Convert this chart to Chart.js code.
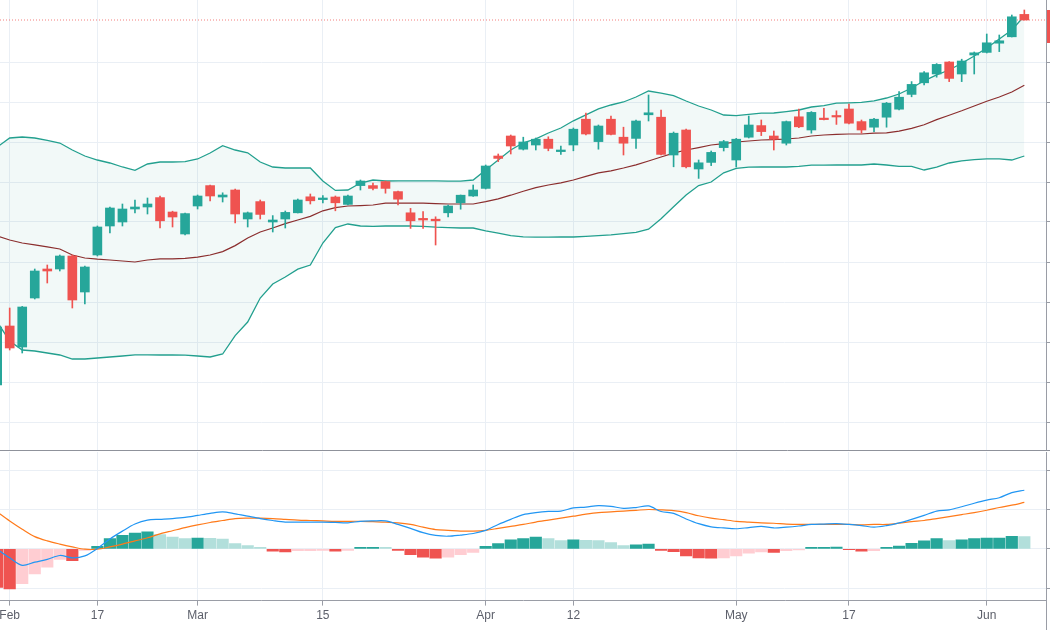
<!DOCTYPE html>
<html lang="en">
<head>
<meta charset="UTF-8">
<title>Candles with Bollinger Bands and MACD</title>
<script src="https://cdn.jsdelivr.net/npm/chart.js"></script>
<style>
  html, body { margin: 0; padding: 0; background: #ffffff; }
  #wrap { position: relative; width: 1050px; height: 630px; overflow: hidden; }
  #priceChart { position: absolute; left: 0; top: 0; }
  #macdChart { position: absolute; left: 0; top: 450px; }
</style>
</head>
<body>
<div id="wrap">
  <canvas id="priceChart" width="1050" height="450"></canvas>
  <canvas id="macdChart" width="1050" height="180"></canvas>
</div>

<script>
// x axis: bar index of each labelled session and its text
const tickIdx  = [1, 8, 16, 26, 39, 46, 59, 68, 79];
const tickText = ['Feb', '17', 'Mar', '15', 'Apr', '12', 'May', '17', 'Jun'];

// daily candles (index 0 is the half-hidden bar at the left edge)
const openP = [19.25, 34, 28.75, 41, 48.25, 48.25, 51.5, 42.5, 51.75, 59,
  60, 63.25, 63.75, 66.1, 62.5, 57, 64, 69.1, 66.25, 68,
  60.75, 65.1, 60, 60.75, 62.3, 66.3, 65.6, 66.25, 64.4, 69.1,
  69.1, 70.1, 67.6, 62.3, 60.9, 60.7, 62.3, 64.8, 66.5, 68.4,
  76.5, 81.5, 78.2, 79.25, 80.7, 77.6, 79.25, 85.7, 80.1, 85.7,
  81.2, 80.9, 86.8, 86.2, 76.75, 83, 73.25, 74.9, 78.6, 75.5,
  81.2, 84.1, 81.5, 79.7, 86.3, 83, 85.9, 86.6, 88.25, 85.1,
  83.7, 86.2, 88.2, 91.9, 94.8, 97, 100, 97, 101.75, 102.4,
  104.7, 106.3, 111.9];
const highP = [34.25, 38.5, 38.9, 48.25, 49.25, 51.75, 51.75, 49, 59, 63.75,
  64.5, 65.5, 66, 66.5, 62.7, 62.25, 66.75, 69.25, 67.3, 68.25,
  62.5, 65.5, 61.6, 62.75, 65.75, 67, 66.6, 66.5, 66.75, 70.5,
  69.75, 70.25, 67.75, 63.4, 62.6, 61.3, 64.25, 66.75, 69.25, 74.25,
  77, 81.75, 81.2, 81, 81.3, 79, 83.5, 87.2, 84.25, 86.5,
  83.7, 85.5, 91.75, 88, 82.5, 83.25, 75.5, 77.75, 80.4, 80.9,
  86.5, 85.5, 82.75, 85.25, 88.25, 87.6, 88.4, 87.8, 89.5, 85.5,
  85.9, 89.9, 92.6, 95.1, 97.6, 99.6, 100.1, 100.7, 102.5, 107,
  106.75, 111.75, 113];
const lowP = [18.75, 28, 27.25, 40.75, 44.75, 47.75, 38.5, 39.5, 51.5, 57.25,
  59, 62.25, 62, 58.5, 58.75, 56.75, 63.25, 65.3, 65, 59.75,
  58.75, 60.75, 57.5, 58.5, 62.25, 64.5, 64.75, 62.8, 64.25, 68,
  68, 67.2, 64.25, 58.4, 58.4, 54.25, 61.3, 63.2, 66.4, 68.25,
  75.1, 77, 78, 78, 77.8, 76.9, 77.8, 81.75, 78.2, 81.75,
  76.75, 78.4, 85.25, 76.75, 73.8, 73.5, 70.9, 74.1, 77.75, 73.75,
  81, 81.6, 78, 79.25, 83.6, 82.2, 85.5, 84.4, 84.5, 82.2,
  82.6, 83.7, 88, 91.3, 94.25, 96.2, 95.1, 95.1, 97, 102.25,
  102.6, 106.25, 110.5];
const closeP = [33.75, 28.5, 38.75, 47.75, 47.75, 51.5, 40.5, 48.75, 58.75, 63.5,
  63.25, 63.75, 64.5, 60.3, 61.25, 62.1, 66.5, 66.5, 66.75, 62,
  62.3, 61.9, 60.5, 62.4, 65.5, 65.3, 66, 64.8, 66.5, 70.25,
  68.4, 68.4, 65.7, 60.3, 60.5, 60.3, 64, 66.7, 68, 74,
  75.9, 79, 80, 80.7, 78.4, 78, 83.2, 82, 84, 81.9,
  79.7, 85.25, 87.3, 76.9, 82.2, 73.8, 74.8, 77.4, 80.1, 80.7,
  84.25, 82.6, 80.7, 85.1, 83.8, 87.4, 85.6, 86.25, 84.7, 83,
  85.7, 89.7, 91.2, 94.4, 97.3, 99.4, 95.9, 100.25, 102.3, 104.8,
  105.3, 111.3, 110.5];

// Bollinger bands
const bbUpper = [78.75, 81, 81.25, 81, 80.4, 79.75, 78, 76.5, 75.5, 74.75,
  73.75, 72.9, 74.5, 75, 75, 75.1, 75.75, 77.25, 79.1, 78,
  77.3, 75, 73.75, 73.5, 73.5, 73.5, 70.25, 67.9, 68, 69.75,
  70.5, 70.25, 70.3, 70.3, 70.3, 70.3, 70.2, 70.2, 70.5, 73,
  75.5, 78, 79.8, 80.8, 82.25, 83.5, 85.3, 86.8, 88.3, 89.25,
  90, 91.25, 92.75, 92.2, 91.6, 90.25, 89, 88, 86.75, 86.6,
  86.9, 87.2, 87.25, 87.6, 88, 88.75, 89.1, 89.7, 89.8, 89.9,
  90.3, 91, 92, 93.5, 95.3, 96.8, 98, 99.7, 101.5, 103.5,
  105.75, 108, 111.5];
const bbBasis = [56.5, 55.5, 54.75, 54.3, 53.8, 53.25, 51.75, 51, 50.7, 50.5,
  50.25, 50, 50.5, 50.8, 50.8, 50.9, 51.2, 51.75, 52.6, 54.1,
  56, 57.5, 58.5, 59.6, 60.5, 61.4, 62.8, 63.6, 64, 64.1,
  64.25, 64.7, 64.7, 64.7, 64.7, 64.6, 64.5, 64.5, 64.5, 65.1,
  65.8, 66.7, 67.7, 68.6, 69.25, 69.8, 70.5, 71.4, 72.3, 72.8,
  73.5, 74.3, 75.25, 76.25, 77.2, 78, 78.6, 79.25, 79.6, 80,
  80.25, 80.5, 80.6, 80.75, 81, 81.5, 81.75, 81.9, 82, 82,
  82.2, 82.3, 82.7, 83.4, 84.3, 85.6, 86.7, 87.8, 89, 90.2,
  91.25, 92.5, 94.2];
const bbLower = [35, 30.25, 28, 27.75, 27.25, 26.75, 25.75, 25.75, 26, 26.25,
  26.5, 26.8, 26.8, 26.75, 26.75, 26.7, 26.5, 26.25, 27, 31.6,
  35, 41, 44.5, 46.25, 48.2, 49.25, 54.75, 58.6, 59.5, 59,
  58.9, 59, 59, 59, 58.9, 58.7, 58.6, 58.5, 58.5, 57.8,
  57.2, 56.6, 56.3, 56.2, 56.2, 56.25, 56.25, 56.4, 56.6, 56.8,
  57.1, 57.4, 58.2, 60.8, 63.8, 66.75, 69.1, 70, 72.3, 73.4,
  73.7, 73.75, 73.75, 73.75, 73.9, 74.2, 74.2, 74.25, 74.25, 74.25,
  74.5, 74.25, 73.9, 73.9, 73, 73.7, 74.75, 75.3, 75.6, 75.8,
  75.8, 75.5, 76.5];

// MACD pane
const macdLine = [-0.01, -0.23, -0.42, -0.34, -0.27, -0.17, -0.23, -0.18, 0.01, 0.25,
  0.45, 0.63, 0.73, 0.75, 0.77, 0.80, 0.85, 0.90, 0.94, 0.89,
  0.83, 0.77, 0.72, 0.68, 0.68, 0.68, 0.68, 0.67, 0.66, 0.70,
  0.71, 0.71, 0.62, 0.52, 0.41, 0.34, 0.32, 0.35, 0.39, 0.47,
  0.62, 0.75, 0.87, 0.92, 0.95, 0.96, 1.04, 1.06, 1.10, 1.08,
  1.03, 1.05, 1.09, 0.95, 0.90, 0.76, 0.64, 0.56, 0.53, 0.51,
  0.54, 0.57, 0.53, 0.55, 0.58, 0.62, 0.63, 0.64, 0.62, 0.59,
  0.55, 0.59, 0.66, 0.75, 0.85, 0.96, 0.99, 1.07, 1.16, 1.24,
  1.30, 1.43, 1.49];
const signalLine = [0.94, 0.71, 0.50, 0.31, 0.20, 0.12, 0.05, -0.01, -0.01, 0.05,
  0.12, 0.20, 0.28, 0.38, 0.46, 0.54, 0.61, 0.67, 0.72, 0.77,
  0.78, 0.78, 0.77, 0.75, 0.73, 0.72, 0.71, 0.70, 0.70, 0.70,
  0.69, 0.68, 0.66, 0.62, 0.55, 0.49, 0.47, 0.45, 0.45, 0.47,
  0.52, 0.57, 0.62, 0.68, 0.73, 0.78, 0.83, 0.88, 0.92, 0.94,
  0.96, 0.98, 1.00, 0.99, 0.97, 0.92, 0.84, 0.78, 0.74, 0.70,
  0.68, 0.66, 0.65, 0.63, 0.62, 0.62, 0.62, 0.62, 0.62, 0.61,
  0.62, 0.62, 0.65, 0.69, 0.72, 0.77, 0.82, 0.87, 0.92, 0.98,
  1.05, 1.11, 1.18];
const macdHist = [-0.98, -1.02, -0.89, -0.64, -0.47, -0.27, -0.30, -0.04, 0.06, 0.26,
  0.34, 0.40, 0.43, 0.36, 0.30, 0.26, 0.27, 0.265, 0.25, 0.13,
  0.08, 0.04, -0.06, -0.08, -0.05, -0.045, -0.04, -0.06, -0.04, 0.035,
  0.04, 0.035, -0.04, -0.15, -0.21, -0.24, -0.21, -0.15, -0.09, 0.06,
  0.13, 0.23, 0.26, 0.30, 0.26, 0.21, 0.23, 0.215, 0.21, 0.16,
  0.08, 0.10, 0.12, -0.04, -0.07, -0.18, -0.235, -0.24, -0.23, -0.18,
  -0.11, -0.08, -0.09, -0.05, -0.03, 0.035, 0.04, 0.045, -0.02, -0.06,
  -0.05, 0.04, 0.07, 0.14, 0.20, 0.26, 0.21, 0.23, 0.26, 0.27,
  0.275, 0.32, 0.31];

// gridline values of both panes
const priceTicks = [10, 20, 30, 40, 50, 60, 70, 80, 90, 100];
const macdTicks = [-1, 0, 1, 2];

const UP = '#26a69a', DOWN = '#ef5350';
const GRID = '#eaeff5', AXIS = '#9a9da6';
const X_MIN = 0.226, X_MAX = 83.73;

const xy = arr => arr.map((v, i) => ({ x: i, y: v }));

function xAxis(withLabels) {
  return {
    type: 'linear',
    min: X_MIN,
    max: X_MAX,
    offset: false,
    afterBuildTicks: s => { s.ticks = tickIdx.map(v => ({ value: v })); },
    afterFit: s => { s.paddingLeft = 0; s.paddingRight = 0; },
    grid: { color: GRID, offset: false, drawTicks: withLabels, tickLength: 5, tickColor: AXIS },
    border: { display: withLabels, color: AXIS },
    ticks: {
      display: withLabels,
      autoSkip: false,
      maxRotation: 0,
      padding: 3,
      color: '#5d606b',
      font: { family: 'Liberation Sans, Arial, sans-serif', size: 12 },
      callback: (v, i) => tickText[i]
    }
  };
}

function yAxis(min, max, values) {
  return {
    position: 'right',
    min: min,
    max: max,
    afterBuildTicks: s => { s.ticks = values.map(v => ({ value: v })); },
    grid: { color: GRID, tickLength: 4, tickColor: AXIS },
    border: { color: AXIS },
    ticks: { display: false }
  };
}

// red tag for the last price on the right scale
const lastPriceTag = {
  id: 'lastPriceTag',
  afterDraw(chart) {
    const { ctx, chartArea, scales } = chart;
    const y = scales.y.getPixelForValue(closeP[closeP.length - 1]);
    ctx.save();
    ctx.fillStyle = DOWN;
    ctx.fillRect(chartArea.right + 1, y - 10, chart.width - chartArea.right - 1, 33);
    ctx.restore();
  }
};

new Chart(document.getElementById('priceChart'), {
  type: 'bar',
  data: {
    datasets: [
      {
        label: 'body',
        order: 0,
        data: openP.map((o, i) => ({ x: i, y: [o, closeP[i]] })),
        backgroundColor: c => closeP[c.dataIndex] >= openP[c.dataIndex] ? UP : DOWN,
        barThickness: 9,
        minBarLength: 1.5,
        grouped: false,
        borderWidth: 0
      },
      {
        label: 'wick',
        order: 1,
        data: lowP.map((l, i) => ({ x: i, y: [l, highP[i]] })),
        backgroundColor: c => closeP[c.dataIndex] >= openP[c.dataIndex] ? UP : DOWN,
        barThickness: 1,
        grouped: false,
        borderWidth: 0
      },
      {
        label: 'last',
        type: 'line',
        order: 2,
        data: [{ x: X_MIN, y: closeP[closeP.length - 1] }, { x: X_MAX, y: closeP[closeP.length - 1] }],
        borderColor: 'rgba(239,83,80,0.75)',
        borderWidth: 1,
        borderDash: [1, 2],
        pointRadius: 0
      },
      {
        label: 'basis',
        type: 'line',
        order: 3,
        data: xy(bbBasis),
        borderColor: '#8b2e2e',
        borderWidth: 1.2,
        pointRadius: 0,
        tension: 0
      },
      {
        label: 'upper',
        type: 'line',
        order: 4,
        data: xy(bbUpper),
        borderColor: '#23a08f',
        borderWidth: 1.3,
        pointRadius: 0,
        tension: 0,
        fill: '+1',
        backgroundColor: 'rgba(33,150,143,0.06)'
      },
      {
        label: 'lower',
        type: 'line',
        order: 5,
        data: xy(bbLower),
        borderColor: '#23a08f',
        borderWidth: 1.3,
        pointRadius: 0,
        tension: 0
      }
    ]
  },
  options: {
    responsive: false,
    animation: false,
    layout: { padding: 0 },
    plugins: { legend: { display: false }, tooltip: { enabled: false } },
    scales: {
      x: xAxis(false),
      y: yAxis(3, 115.5, priceTicks)
    }
  },
  plugins: [lastPriceTag]
});

// pane separator and the right scale line running through the time axis
const paneFrame = {
  id: 'paneFrame',
  afterDraw(chart) {
    const { ctx, chartArea } = chart;
    ctx.save();
    ctx.strokeStyle = '#8f929b';
    ctx.lineWidth = 1;
    ctx.beginPath();
    ctx.moveTo(0, 0.5);
    ctx.lineTo(chart.width, 0.5);
    ctx.stroke();
    ctx.strokeStyle = AXIS;
    ctx.beginPath();
    ctx.moveTo(chartArea.right + 0.5, chartArea.bottom);
    ctx.lineTo(chartArea.right + 0.5, chart.height);
    ctx.stroke();
    ctx.restore();
  }
};

new Chart(document.getElementById('macdChart'), {
  type: 'bar',
  data: {
    datasets: [
      {
        label: 'MACD',
        type: 'line',
        order: 0,
        data: xy(macdLine),
        borderColor: '#2196f3',
        borderWidth: 1.2,
        pointRadius: 0,
        tension: 0.3
      },
      {
        label: 'Signal',
        type: 'line',
        order: 1,
        data: xy(signalLine),
        borderColor: '#ff7a1a',
        borderWidth: 1.2,
        pointRadius: 0,
        tension: 0.3
      },
      {
        label: 'Histogram',
        order: 2,
        data: xy(macdHist),
        backgroundColor: c => {
          const i = c.dataIndex, h = macdHist[i];
          const prev = i > 0 ? macdHist[i - 1] : null;
          if (h >= 0) return prev === null || h > prev ? '#26a69a' : '#b2dfdb';
          return prev === null || h < prev ? '#ef5350' : '#ffcdd2';
        },
        barThickness: 11.5,
        grouped: false,
        borderWidth: 0
      }
    ]
  },
  options: {
    responsive: false,
    animation: false,
    layout: { padding: { top: 2, bottom: 4, left: 0, right: 0 } },
    plugins: { legend: { display: false }, tooltip: { enabled: false } },
    scales: {
      x: xAxis(true),
      y: yAxis(-1.318, 2.463, macdTicks)
    }
  },
  plugins: [paneFrame]
});
</script>
</body>
</html>
